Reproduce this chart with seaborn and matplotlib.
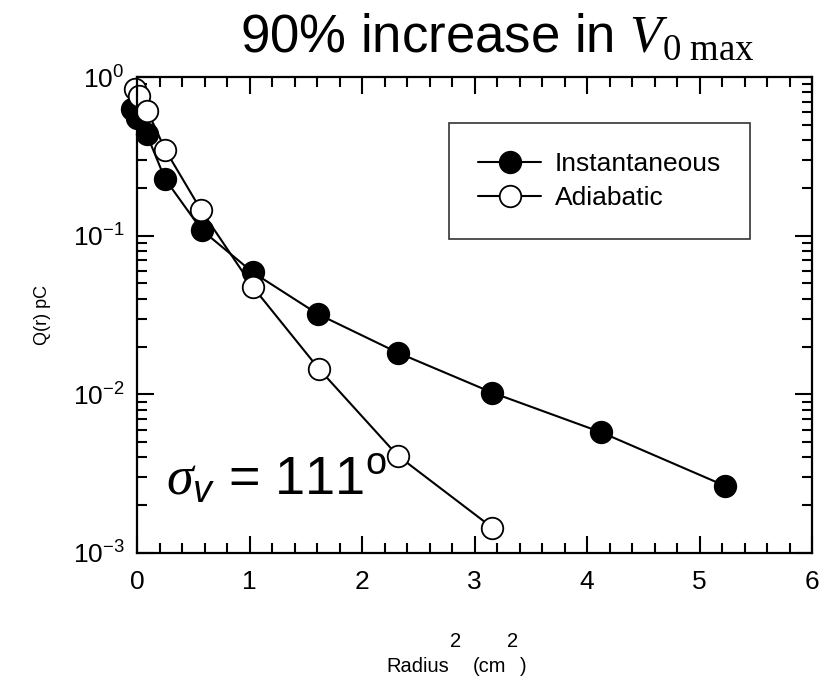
import numpy as np
import pandas as pd
import matplotlib
matplotlib.use("Agg")
import matplotlib.pyplot as plt
import matplotlib.transforms as mtransforms
import seaborn as sns
from matplotlib.ticker import FixedLocator, LogLocator, NullFormatter, MultipleLocator

# ---- data ----
inst_r2 = [-0.047, 0.0, 0.086, 0.249, 0.575, 1.028, 1.606, 2.317, 3.158, 4.124, 5.227]
inst_q = [0.626, 0.552, 0.437, 0.228, 0.1086, 0.0588, 0.0321, 0.01832, 0.01025, 0.00577, 0.00265]
adia_r2 = [-0.018, 0.02, 0.092, 0.252, 0.569, 1.028, 1.618, 2.317, 3.158]
adia_q = [0.837, 0.762, 0.613, 0.347, 0.145, 0.0477, 0.01445, 0.00411, 0.001445]
series_names = ["Instantaneous", "Adiabatic"]
x_ticks = [0, 1, 2, 3, 4, 5, 6]
y_ticks = [1e-3, 1e-2, 1e-1, 1e0]
y_tick_labels = [r"$10^{-3}$", r"$10^{-2}$", r"$10^{-1}$", r"$10^{0}$"]

sns.set_theme(style="ticks")
plt.rcParams["font.family"] = ["Liberation Sans", "DejaVu Sans"]
plt.rcParams["mathtext.fontset"] = "custom"
plt.rcParams["mathtext.default"] = "regular"
plt.rcParams["mathtext.rm"] = "Liberation Serif"
plt.rcParams["mathtext.it"] = "Liberation Serif:italic"
plt.rcParams["mathtext.cal"] = "Liberation Sans:italic"
for k in ["text.color", "axes.labelcolor", "xtick.color", "ytick.color", "axes.edgecolor"]:
    plt.rcParams[k] = "black"

fig = plt.figure(figsize=(8.25, 6.84), dpi=100)
ax = fig.add_axes([137 / 825, 1 - 553 / 684, 675 / 825, 476 / 684])

df_i = pd.DataFrame({"r2": inst_r2, "q": inst_q})
df_a = pd.DataFrame({"r2": adia_r2, "q": adia_q})

common = dict(color="black", linewidth=1.5, marker="o", markersize=15.5,
              markeredgecolor="black", markeredgewidth=1.3, sort=False, ax=ax)
sns.lineplot(data=df_i, x="r2", y="q", markerfacecolor="black", label=series_names[0], **common)
sns.lineplot(data=df_a, x="r2", y="q", markerfacecolor="white", label=series_names[1], **common)

ax.set_yscale("log")
ax.set_xlim(0, 6)
ax.set_ylim(1e-3, 1)
for l in ax.lines:
    l.set_clip_on(False)

ax.xaxis.set_major_locator(FixedLocator(x_ticks))
ax.xaxis.set_minor_locator(MultipleLocator(0.2))
ax.set_xticklabels([str(t) for t in x_ticks])
ax.yaxis.set_major_locator(FixedLocator(y_ticks))
ax.set_yticklabels(y_tick_labels)
ax.yaxis.set_minor_locator(LogLocator(base=10, subs=np.arange(2, 10)))
ax.yaxis.set_minor_formatter(NullFormatter())

ax.tick_params(which="both", direction="in", top=True, right=True, color="black", width=1.5)
ax.tick_params(which="major", length=12, labelsize=19)
ax.tick_params(axis="x", which="major", pad=12)
ax.tick_params(axis="y", which="major", pad=9)
ax.tick_params(which="minor", length=7)
for s in ax.spines.values():
    s.set_linewidth(1.6)
    s.set_color("black")

ax.set_xlabel("")
ax.set_ylabel("Q(r) pC", fontsize=13)
ax.yaxis.set_label_coords(-0.128, 0.5)

# x label with full-size raised superscripts, pieces placed by measured widths
fs = 14.5
x0, y0 = 0.369, -0.250
renderer = fig.canvas.get_renderer()
pieces = [("Radius", 0, 0), ("2", 1, 25), ("(cm", 12, 0), ("2", 1, 25), (")", 1, 0)]
cur = 0.0
for txt, gap, dy in pieces:
    cur += gap
    tr = mtransforms.offset_copy(ax.transAxes, fig=fig, x=cur, y=dy, units="dots")
    t = ax.text(x0, y0, txt, transform=tr, fontsize=fs, ha="left", va="baseline")
    cur += t.get_window_extent(renderer).width

leg = ax.legend(loc="upper right", bbox_to_anchor=(0.908, 0.903), borderaxespad=0,
                fontsize=19, frameon=True, fancybox=False, edgecolor="black",
                handlelength=2.4, handletextpad=0.5, borderpad=1.1, labelspacing=0.38)
leg.get_frame().set_linewidth(1.2)

ax.text(0.043, 0.122, r"$\mathit{\sigma}_{\mathcal{v}}$ = 111$^{o}$", transform=ax.transAxes,
        fontsize=39, ha="left", va="baseline")

fig.text(0.603, 0.946, r"90% increase in $\mathit{V}_{\mathrm{0\ max}}$", fontsize=38,
         ha="center", va="center")

fig.savefig("out.png", dpi=100)
